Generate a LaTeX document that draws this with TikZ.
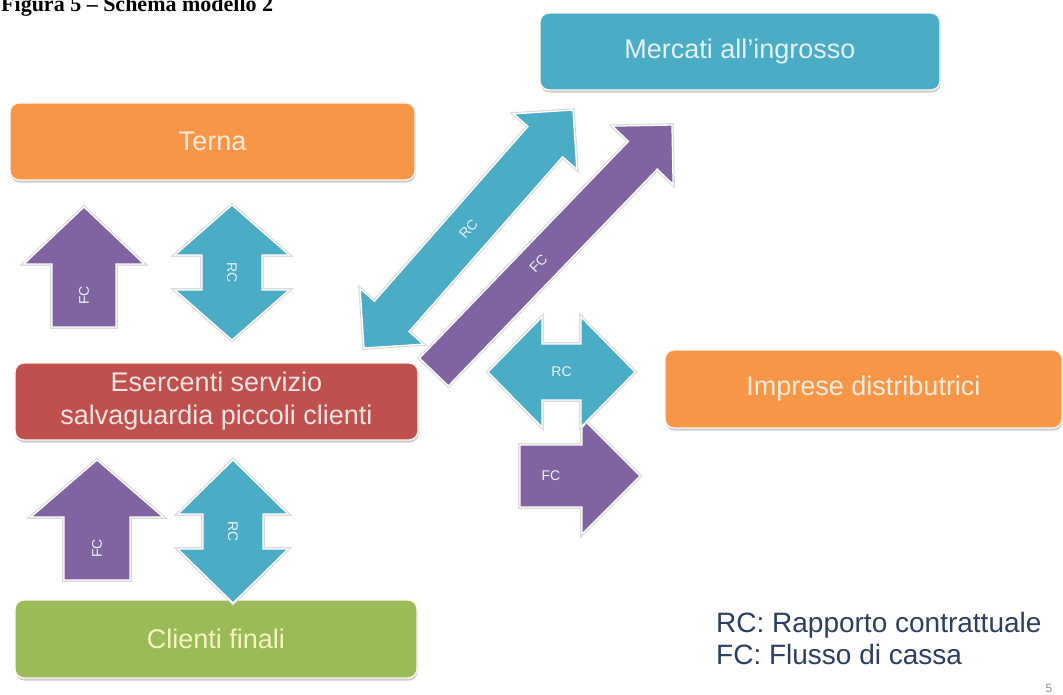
\documentclass[tikz,border=0pt]{standalone}
\usepackage{fontspec}
\setmainfont{Liberation Sans}
\newfontfamily\titlefont{Liberation Serif}
\usetikzlibrary{calc,shadows}
\definecolor{corange}{HTML}{F79646}
\definecolor{ccyan}{HTML}{4BACC6}
\definecolor{cred}{HTML}{C0504D}
\definecolor{cgreen}{HTML}{9BBB59}
\definecolor{cpurple}{HTML}{8064A2}
\definecolor{clegend}{HTML}{2E3E62}
% #1 style, #2 start, #3 end, #4 shaft half width, #5 head half width, #6 head length, #7 double (1) or single (0), #8 label
\newcommand\blockarrow[8]{%
  \path let \p1=($#3-#2$) in \pgfextra{%
    \pgfmathsetmacro\tmpang{atan2(\y1,\x1)}%
    \pgfmathsetmacro\tmplen{veclen(\x1,\y1)}%
    \global\let\BAang\tmpang \global\let\BAlen\tmplen};
  \begin{scope}[shift={#2},rotate=\BAang]
    \ifnum#7=1
      \path[#1] (0,0) -- (#6,#5) -- (#6,#4) -- ({\BAlen-#6},#4) -- ({\BAlen-#6},#5) -- (\BAlen,0)
        -- ({\BAlen-#6},-#5) -- ({\BAlen-#6},-#4) -- (#6,-#4) -- (#6,-#5) -- cycle;
      \node[arrlbl, transform shape] at ({\BAlen/2},0) {#8};
    \else
      \path[#1] (0,#4) -- ({\BAlen-#6},#4) -- ({\BAlen-#6},#5) -- (\BAlen,0)
        -- ({\BAlen-#6},-#5) -- ({\BAlen-#6},-#4) -- (0,-#4) -- cycle;
      \node[arrlbl, transform shape] at ({(\BAlen-#6)/2},0) {#8};
    \fi
  \end{scope}}
\begin{document}
\begin{tikzpicture}[x=1pt,y=-1pt,
  boxbase/.style={rounded corners=9pt, draw=white!94!orange, line width=1.4pt, inner sep=0pt,
    font=\fontsize{27}{33}\selectfont, align=center,
    drop shadow={opacity=0.28, shadow xshift=0.6pt, shadow yshift=-2.6pt, fill=black!70}},
  obox/.style={boxbase, fill=corange, text=white!82!corange},
  cbox/.style={boxbase, fill=ccyan, text=white!84!ccyan},
  rbox/.style={boxbase, fill=cred, text=white!84!cred},
  gbox/.style={boxbase, fill=cgreen, text=white!78!yellow!90!cgreen},
  arrbase/.style={draw=white, line width=1.3pt, preaction={draw=black!14, line width=3.6pt}},
  parrow/.style={arrbase, fill=cpurple},
  carrow/.style={arrbase, fill=ccyan},
  arrlbl/.style={font=\fontsize{14}{14}\selectfont, text=white!88!ccyan, inner sep=0pt},
  legend/.style={anchor=base west, inner sep=0pt, font=\fontsize{28}{28}\selectfont, text=clegend}
]
\useasboundingbox (0,0) rectangle (1063,695);
\fill[white] (0,0) rectangle (1063,695);

% title (cut at the top edge)
\node[anchor=base west, inner sep=0pt, font=\titlefont\bfseries\fontsize{22}{22}\selectfont] (title) at (1,12) {Figura 5 – Schema modello 2};

% boxes
\node[obox, minimum width=405pt, minimum height=77pt] (terna) at (212.5,141.5) {Terna};
\node[cbox, minimum width=400pt, minimum height=77pt] (mercati) at (740,51.5) {Mercati all’ingrosso};
\node[rbox, minimum width=403pt, minimum height=77pt] (esercenti) at (216.5,401.5) {Esercenti servizio\\salvaguardia piccoli clienti};
\node[obox, minimum width=397pt, minimum height=78pt] (imprese) at (863.5,389) {Imprese distributrici};
\node[gbox, minimum width=402pt, minimum height=78pt] (clienti) at (216,639) {Clienti finali};

% arrow end points
\coordinate (fc1a) at (84,327);  \coordinate (fc1b) at (84,207);
\coordinate (rc1a) at (232,205); \coordinate (rc1b) at (232,340);
\coordinate (fc2a) at (97,580);  \coordinate (fc2b) at (97,460);
\coordinate (rc2a) at (233,460); \coordinate (rc2b) at (233,603);
\coordinate (rc3a) at (364,348); \coordinate (rc3b) at (573,110);
\coordinate (fc3a) at (434,372); \coordinate (fc3b) at (672,125);
\coordinate (rc4a) at (488,372); \coordinate (rc4b) at (635,372);
\coordinate (fc4a) at (520,476); \coordinate (fc4b) at (640,476);

\blockarrow{parrow}{(fc1a)}{(fc1b)}{32}{60}{57}{0}{FC}
\blockarrow{carrow}{(rc1a)}{(rc1b)}{30}{57}{50}{1}{RC}
\blockarrow{parrow}{(fc2a)}{(fc2b)}{33}{66}{57}{0}{FC}
\blockarrow{carrow}{(rc2a)}{(rc2b)}{30}{55}{54}{1}{RC}
\blockarrow{carrow}{(rc3a)}{(rc3b)}{23}{42}{42}{1}{RC}
\blockarrow{parrow}{(fc3a)}{(fc3b)}{20}{42}{42}{0}{FC}
\blockarrow{parrow}{(fc4a)}{(fc4b)}{31}{58}{58}{0}{FC}
\blockarrow{carrow}{(rc4a)}{(rc4b)}{28}{55}{54}{1}{RC}

% legend
\node[legend] (legrc) at (716,632) {RC: Rapporto contrattuale};
\node[legend] (legfc) at (716,664) {FC: Flusso di cassa};
\node[inner sep=0pt, font=\fontsize{12}{12}\selectfont, text=black!45] (pnum) at (1049,688) {5};
\end{tikzpicture}
\end{document}
